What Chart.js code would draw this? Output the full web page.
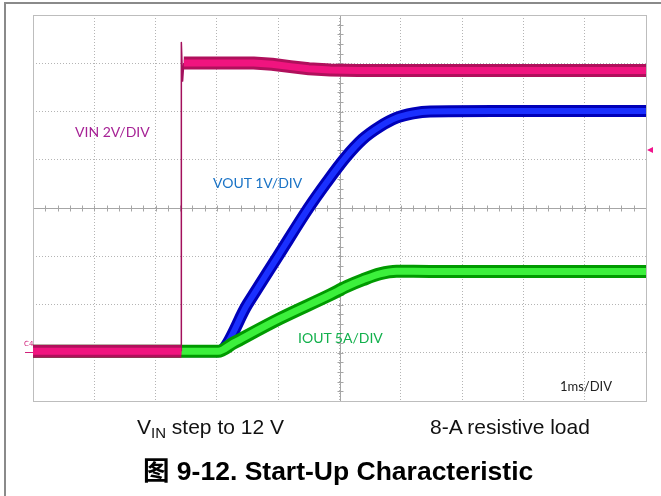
<!DOCTYPE html>
<html>
<head>
<meta charset="utf-8">
<script src="https://cdn.jsdelivr.net/npm/chart.js@4.4.1/dist/chart.umd.min.js"></script>
<style>
  html, body { margin: 0; padding: 0; background: #fff; }
  #wrap { position: relative; width: 661px; height: 496px; overflow: hidden; }
  #scope { position: absolute; left: 0; top: 0; }
  .frame-left { position: absolute; left: 4px; top: 2px; width: 2px; height: 494px; background: #8a8a8a; }
  .frame-top  { position: absolute; left: 4px; top: 2px; width: 657px; height: 2px; background: #8a8a8a; }
  .lbl { position: absolute; white-space: nowrap; line-height: 1; }
  .scope-lbl { font-family: Lato, "Open Sans", sans-serif; font-size: 14px; }
  .cap { font-family: "Liberation Sans", Arial, sans-serif; font-size: 21px; color: #111; }
  .cap sub { font-size: 15px; vertical-align: -4px; line-height: 0; }
  .title { font-family: "Liberation Sans", Arial, "Noto Sans CJK SC", sans-serif; font-size: 26.5px; font-weight: bold; color: #000; }
  .c4 { position: absolute; left: 24px; top: 340px; font: 7px "DejaVu Sans", sans-serif; color: #d0207a; }
  .c4-line { position: absolute; left: 25px; top: 352px; width: 8px; height: 1px; background: #d0207a; }
  .trig { position: absolute; left: 647px; top: 147px; width: 0; height: 0;
          border-top: 3px solid transparent; border-bottom: 3px solid transparent; border-right: 6px solid #f0148c; }
</style>
</head>
<body>
<div id="wrap">
  <canvas id="scope" width="661" height="496"></canvas>
  <div class="frame-left"></div>
  <div class="frame-top"></div>

  <div class="lbl scope-lbl" style="left:75px; top:125px; color:#a62295;">VIN 2V/DIV</div>
  <div class="lbl scope-lbl" style="left:213px; top:176px; color:#1a73c6;">VOUT 1V/DIV</div>
  <div class="lbl scope-lbl" style="left:298px; top:331px; color:#12b04c;">IOUT 5A/DIV</div>
  <div class="lbl scope-lbl" style="left:560px; top:380px; color:#222; font-size:13px;">1ms/DIV</div>
  <div class="c4">C4</div>
  <div class="c4-line"></div>
  <div class="trig"></div>

  <div class="lbl cap" style="left:137px; top:416px;">V<sub>IN</sub> step to 12 V</div>
  <div class="lbl cap" style="left:430px; top:416px;">8-A resistive load</div>
  <div class="lbl title" style="left:143px; top:458px;">图 9-12. Start-Up Characteristic</div>
</div>

<script>
"use strict";

// time in ms, 1 ms per division
const vinTime   = [0, 2.42, 2.42, 2.44, 2.46, 3.6, 3.9, 4.2, 4.5, 4.85, 5.3, 10];
const vinVolts  = [0, 0, 12.8, 11.2, 11.95, 11.95, 11.9, 11.8, 11.71, 11.66, 11.64, 11.64];

const voutTime  = [0, 3.02, 3.5, 4.0, 4.5, 4.8, 5.1, 5.38, 5.66, 5.93, 6.2, 6.48, 7.5, 10];
const voutVolts = [0, 0, 0.98, 1.98, 2.98, 3.52, 4.02, 4.4, 4.66, 4.84, 4.93, 4.97, 4.98, 4.98];

const ioutTime  = [0, 3.02, 3.27, 4.03, 4.85, 5.12, 5.38, 5.66, 5.93, 6.48, 10];
const ioutAmps  = [0, 0, 0.85, 3.4, 5.86, 6.72, 7.41, 8.03, 8.3, 8.28, 8.28];

const DIVS_X   = 10;
const DIVS_Y   = 8;
const ZERO_DIV = 1.03;   // all three grounds sit about one division up
const VIN_PER_DIV  = 2;
const VOUT_PER_DIV = 1;
const IOUT_PER_DIV = 5;

const COLORS = {
  vin:  { edge: "#b0105c", core: "#f0147f", step: "#a3105c" },
  vout: { edge: "#0000b8", core: "#1a30ff" },
  iout: { edge: "#009a00", core: "#3cf03c" },
};

function toPoints(times, values) {
  return times.map((t, i) => ({ x: t, y: values[i] }));
}

function channelAxis(perDiv) {
  return {
    display: false,
    min: -ZERO_DIV * perDiv,
    max: (DIVS_Y - ZERO_DIV) * perDiv,
  };
}

// the VIN edge and its ringing are a thin single trace, the rest is a thick band
function isVinStep(ctx) {
  return ctx.p0.parsed.x >= vinTime[1] && ctx.p1.parsed.x <= vinTime[4];
}

function band(label, points, axis, color, width, order, extra = {}) {
  return Object.assign({
    label,
    data: points,
    yAxisID: axis,
    borderColor: color,
    borderWidth: width,
    pointRadius: 0,
    fill: false,
    borderJoinStyle: "round",
    borderCapStyle: "butt",
    order,
  }, extra);
}

const smooth = { cubicInterpolationMode: "monotone" };

const datasets = [
  band("VIN", toPoints(vinTime, vinVolts), "yVin", COLORS.vin.core, 7, 0, {
    tension: 0,
    segment: {
      borderColor: (ctx) => (isVinStep(ctx) ? "rgba(0,0,0,0)" : undefined),
    },
  }),
  band("VIN edge", toPoints(vinTime, vinVolts), "yVin", COLORS.vin.edge, 13, 1, {
    tension: 0,
    segment: {
      borderColor: (ctx) => (isVinStep(ctx) ? COLORS.vin.step : undefined),
      borderWidth: (ctx) => (isVinStep(ctx) ? 1.5 : undefined),
    },
  }),
  band("IOUT", toPoints(ioutTime, ioutAmps), "yIout", COLORS.iout.core, 7, 2, smooth),
  band("IOUT edge", toPoints(ioutTime, ioutAmps), "yIout", COLORS.iout.edge, 13, 3, smooth),
  band("VOUT", toPoints(voutTime, voutVolts), "yVout", COLORS.vout.core, 6, 4, smooth),
  band("VOUT edge", toPoints(voutTime, voutVolts), "yVout", COLORS.vout.edge, 12, 5, smooth),
];

const gridAxis = (max) => ({
  type: "linear",
  min: 0,
  max,
  ticks: { display: false, stepSize: 1 },
  grid: { color: "#b4b4b4", drawTicks: false, lineWidth: 1 },
  border: { display: false, dash: [1, 2] },
});

// solid centre cross with fifth-division ticks, plus the screen frame
const scopeFrame = {
  id: "scopeFrame",
  beforeDatasetsDraw(chart) {
    const { ctx, chartArea: a, scales } = chart;
    const cx = Math.round(scales.x.getPixelForValue(DIVS_X / 2)) + 0.5;
    const cy = Math.round(scales.y.getPixelForValue(DIVS_Y / 2)) + 0.5;
    ctx.save();
    ctx.strokeStyle = "#a6a6a6";
    ctx.lineWidth = 1;
    ctx.beginPath();
    ctx.moveTo(a.left, cy);
    ctx.lineTo(a.right, cy);
    ctx.moveTo(cx, a.top);
    ctx.lineTo(cx, a.bottom);
    for (let d = 1; d < DIVS_X * 5; d++) {
      const px = Math.round(scales.x.getPixelForValue(d / 5)) + 0.5;
      ctx.moveTo(px, cy - 3);
      ctx.lineTo(px, cy + 3);
    }
    for (let d = 1; d < DIVS_Y * 5; d++) {
      const py = Math.round(scales.y.getPixelForValue(d / 5)) + 0.5;
      ctx.moveTo(cx - 3, py);
      ctx.lineTo(cx + 3, py);
    }
    ctx.stroke();
    ctx.strokeStyle = "#bdbdbd";
    ctx.strokeRect(Math.round(a.left) + 0.5, Math.round(a.top) + 0.5,
                   Math.round(a.width), Math.round(a.height));
    ctx.restore();
  },
};

new Chart(document.getElementById("scope"), {
  type: "line",
  data: { datasets },
  options: {
    responsive: false,
    animation: false,
    layout: { padding: { left: 33, top: 15, right: 15, bottom: 95 } },
    plugins: {
      legend: { display: false },
      tooltip: { enabled: false },
    },
    scales: {
      x: gridAxis(DIVS_X),
      y: gridAxis(DIVS_Y),
      yVin:  channelAxis(VIN_PER_DIV),
      yVout: channelAxis(VOUT_PER_DIV),
      yIout: channelAxis(IOUT_PER_DIV),
    },
  },
  plugins: [scopeFrame],
});
</script>
</body>
</html>
